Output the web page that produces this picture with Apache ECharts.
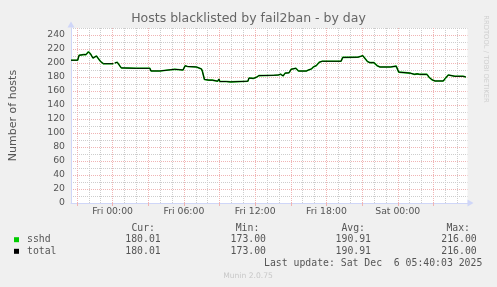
<!DOCTYPE html>
<html>
<head>
<meta charset="utf-8">
<script src="https://cdn.jsdelivr.net/npm/echarts@6/dist/echarts.min.js"></script>
<style>
  html, body { margin: 0; padding: 0; background: #F0F0F0; }
  #c { width: 497px; height: 287px; }
</style>
</head>
<body>
<div id="c"></div>
<script>
// ---- data (hours relative to Fri 00:00) ----
const hours = [
  -3.5, -2.94, -2.82, -2.44, -2.23, -2.03, -1.86, -1.65, -1.53, -1.36,
  -1.23, -1.03, -0.78, 0.06, 0.12, 0.18, 0.39, 0.52, 0.73, 0.89,
  1.98, 2.06, 2.23, 3.14, 3.23, 3.98, 4.06, 5.23, 5.31, 5.93,
  6.10, 6.31, 7.06, 7.14, 7.48, 7.56, 7.73, 7.85, 8.10, 8.39,
  8.48, 8.85, 8.95, 9.03, 9.56, 9.64, 9.93, 10.02, 11.39, 11.48,
  11.60, 11.85, 12.10, 12.31, 13.60, 13.68, 13.95, 14.14, 14.35, 14.52,
  14.85, 15.02, 15.43, 15.64, 16.31, 16.48, 16.73, 16.93, 17.14, 17.39,
  17.64, 19.23, 19.37, 20.64, 20.89, 21.06, 21.18, 21.45, 21.67, 22.0,
  22.28, 22.5, 23.39, 23.53, 23.87, 24.08, 24.23, 25.06, 25.2, 25.39,
  25.64, 25.83, 26.45, 26.67, 26.87, 27.14, 27.83, 27.98, 28.25, 28.39,
  28.81, 29.5, 29.73
];
const sshd = [
  204, 204, 211, 212, 212, 216, 213, 207, 208, 210,
  208, 202.5, 199, 199, null, 200, 201, 203, 193, 192.4,
  192.4, 191.5, 192.4, 192.4, 188.6, 188.6, 191, 191, 190, 190,
  196, 195, 194.3, 191.5, 191.5, 188, 176.5, 174.3, 175.5, 175.5,
  174, 174, 177, 173.5, 173.5, 173, 173, 174, 174, 178.5,
  179.5, 178, 179.5, 182, 182.5, 181.9, 182.9, 184, 181.5, 185.5,
  186, 191, 192.5, 188.5, 188.5, 190, 191.4, 194.8, 196.2, 201,
  202.5, 202.5, 208, 208.3, 209.5, 210.5, 208, 202, 200.5, 200.5,
  196, 194.3, 194.3, 195.5, 195.5, 187, 185.5, 185.5, 185.2, 183.8,
  184.5, 183.8, 183.8, 179, 176.2, 174.3, 174.3, 177.6, 182.9, 184,
  181, 181, 180
];
// total = sum of all jails; only sshd exists
const total = sshd;

const seriesNames = ['sshd', 'total'];
const xLabelHours = [0, 6, 12, 18, 24];
const xLabelText = ['Fri 00:00', 'Fri 06:00', 'Fri 12:00', 'Fri 18:00', 'Sat 00:00'];
const hourGrid = [-3,-2,-1,0,1,2,3,4,5,6,7,8,9,10,11,12,13,14,15,16,17,18,19,20,21,22,23,24,25,26,27,28,29];
const majorHourTicks = [-3, 0, 3, 6, 9, 12, 15, 18, 21, 24, 27];
const yLabels = [0, 20, 40, 60, 80, 100, 120, 140, 160, 180, 200, 220, 240];

const statHeaders = ['Cur:', 'Min:', 'Avg:', 'Max:'];
const sshdStats = ['180.01', '173.00', '190.91', '216.00'];
const totalStats = ['180.01', '173.00', '190.91', '216.00'];

const titleText = 'Hosts blacklisted by fail2ban - by day';
const yName = 'Number of hosts';
const lastUpdate = 'Last update: Sat Dec  6 05:40:03 2025';
const footer = 'Munin 2.0.75';
const watermark = 'RRDTOOL / TOBI OETIKER';

// ---- styling ----
const SANS = '"DejaVu Sans", sans-serif';
const MONO = '"DejaVu Sans Mono", monospace';
const MAJOR = '#F0B4B4';
const MINOR = '#CDCDCD';
const AXIS = '#CFD6F8';
const TXT = '#555555';

function pairs(xs, ys) { return xs.map((x, i) => [x, ys[i]]); }

const headerRight = [155, 259.3, 365, 470];
const valueRight = [160.7, 266, 371, 476.7];

function txt(x, y, text, font, fill, align, extra) {
  return Object.assign({
    type: 'text', x: x, y: y, silent: true,
    style: { text: text, font: font, fill: fill, align: align, textAlign: align,
             verticalAlign: 'middle', textVerticalAlign: 'middle' }
  }, extra || {});
}

const graphics = [];
graphics.push(txt(248.5, 19, titleText, '12.5px ' + SANS, '#666666', 'center'));
graphics.push(txt(485.5, 59, watermark, '6.8px ' + SANS, '#CFCFCF', 'center', { rotation: -Math.PI / 2 }));
statHeaders.forEach((h, i) => graphics.push(txt(headerRight[i], 228.3, h, '9.8px ' + MONO, TXT, 'right')));
sshdStats.forEach((v, i) => graphics.push(txt(valueRight[i], 239.7, v, '9.8px ' + MONO, TXT, 'right')));
totalStats.forEach((v, i) => graphics.push(txt(valueRight[i], 251.3, v, '9.8px ' + MONO, TXT, 'right')));
graphics.push(txt(482.3, 263.7, lastUpdate, '9.8px ' + MONO, TXT, 'right'));
graphics.push(txt(248, 276.3, footer, '7.6px ' + SANS, '#C8C8C8', 'center'));

const chart = echarts.init(document.getElementById('c'), null, { renderer: 'canvas' });
chart.setOption({
  animation: false,
  backgroundColor: '#F0F0F0',
  grid: { left: 67, right: 29.5, top: 28, bottom: 84, show: true, backgroundColor: '#FFFFFF', borderWidth: 0 },
  legend: {
    orient: 'vertical', left: 14, top: 233.9, padding: 0,
    itemWidth: 5, itemHeight: 5, itemGap: 0, icon: 'rect',
    selectedMode: false,
    itemStyle: { borderWidth: 0 },
    textStyle: { fontFamily: MONO, fontSize: 9.8, color: TXT, lineHeight: 11.6, padding: [0, 0, 0, 3] },
    data: seriesNames
  },
  xAxis: [{
    type: 'value', min: -3.5, max: 29.87, position: 'bottom',
    axisLine: { show: true, onZero: false, lineStyle: { color: AXIS, width: 1 },
                symbol: ['none', 'triangle'], symbolSize: [7, 6], symbolOffset: [0, 3] },
    axisTick: { show: false, customValues: hourGrid },
    axisLabel: { customValues: xLabelHours, formatter: v => xLabelText[xLabelHours.indexOf(v)] || '',
                 fontFamily: SANS, fontSize: 9.3, color: TXT, margin: 4 },
    splitLine: { show: true, lineStyle: { color: [MAJOR, MINOR, MINOR], width: 1, type: [1, 1] } }
  }, {
    type: 'value', min: -3.5, max: 29.87, position: 'bottom',
    axisLine: { show: false, onZero: false },
    axisTick: { show: true, customValues: majorHourTicks, length: 3, lineStyle: { color: MAJOR } },
    axisLabel: { show: false },
    splitLine: { show: false }
  }],
  yAxis: {
    type: 'value', min: 0, max: 250, interval: 10,
    name: yName, nameLocation: 'middle', nameGap: 52,
    nameTextStyle: { fontFamily: SANS, fontSize: 11, color: TXT },
    axisLine: { show: true, onZero: false, lineStyle: { color: AXIS, width: 1 },
                symbol: ['none', 'triangle'], symbolSize: [7, 6], symbolOffset: [0, 3.5] },
    axisTick: { show: false },
    axisLabel: { customValues: yLabels, fontFamily: SANS, fontSize: 9.3, color: TXT, margin: 6 },
    splitLine: { show: true, lineStyle: { color: [MAJOR, MINOR], width: 1, type: [1, 1] } }
  },
  series: [{
    name: seriesNames[0], type: 'line', xAxisIndex: 0, data: pairs(hours, sshd),
    showSymbol: false, symbol: 'none', connectNulls: false, z: 2,
    itemStyle: { color: '#00CC00' }, lineStyle: { color: '#00CC00', width: 1.6 }
  }, {
    name: seriesNames[1], type: 'line', xAxisIndex: 0, data: pairs(hours, total),
    showSymbol: false, symbol: 'none', connectNulls: false, z: 3,
    itemStyle: { color: '#000000' }, lineStyle: { color: '#000000', width: 1 }
  }],
  graphic: graphics
});
</script>
</body>
</html>
